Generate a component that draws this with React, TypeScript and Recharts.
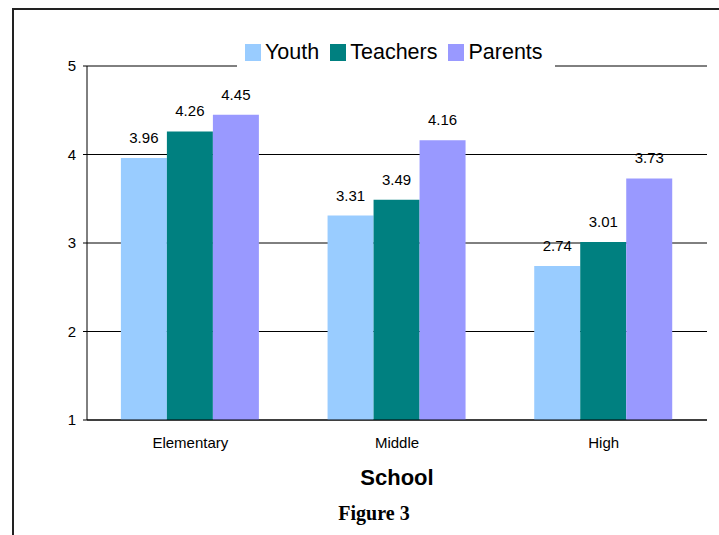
import { BarChart, Bar, XAxis, YAxis, CartesianGrid, Legend, LabelList, Label } from 'recharts';

const schools = ['Elementary', 'Middle', 'High'];
const youth = [3.96, 3.31, 2.74];
const teachers = [4.26, 3.49, 3.01];
const parents = [4.45, 4.16, 3.73];
const yTicks = [1, 2, 3, 4, 5];

const SERIES = [
  { key: 'youth', name: 'Youth', color: '#99ccff' },
  { key: 'teachers', name: 'Teachers', color: '#008080' },
  { key: 'parents', name: 'Parents', color: '#9999ff' },
];

const FONT = '"Liberation Sans", Arial, sans-serif';

const data = schools.map((school, i) => ({
  school,
  youth: youth[i],
  teachers: teachers[i],
  parents: parents[i],
}));

// legend sits on a white box that hides the top gridline behind it;
// items follow the series order (Youth, Teachers, Parents)
function renderLegend() {
  return (
    <div
      style={{
        display: 'flex',
        alignItems: 'center',
        background: '#fff',
        padding: '4px 12px 4px 8px',
        height: 30,
        fontFamily: FONT,
        fontSize: 21.5,
        color: '#000',
      }}
    >
      {SERIES.map((s, i) => (
        <div key={s.key} style={{ display: 'flex', alignItems: 'center', marginLeft: i ? 11 : 0 }}>
          <span style={{ width: 16, height: 17, background: s.color, display: 'inline-block', marginRight: 4 }} />
          <span>{s.name}</span>
        </div>
      ))}
    </div>
  );
}

export default function App() {
  return (
    <div style={{ position: 'absolute', left: 0, top: 0, width: 719, height: 535, background: '#fff' }}>
      {/* page frame */}
      <div style={{ position: 'absolute', left: 12, top: 8, width: 707, height: 2, background: '#222' }} />
      <div style={{ position: 'absolute', left: 12, top: 8, width: 2, height: 527, background: '#222' }} />

      <BarChart
        width={719}
        height={535}
        data={data}
        margin={{ top: 66, right: 12, left: 0, bottom: 0 }}
        barCategoryGap="16.4%"
        barGap={0}
      >
        <CartesianGrid vertical={false} stroke="#000" strokeOpacity={1} />
        <XAxis
          dataKey="school"
          axisLine={{ stroke: '#000' }}
          tickLine={false}
          tickSize={0}
          tickMargin={17}
          interval={0}
          height={115}
          tick={{ fill: '#000', fontSize: 15, fontFamily: FONT }}
        >
          <Label
            value="School"
            position="insideBottom"
            offset={50}
            style={{ fill: '#000', fontSize: 22, fontWeight: 'bold', fontFamily: FONT }}
          />
        </XAxis>
        <YAxis
          width={87}
          domain={[1, 5]}
          ticks={yTicks}
          axisLine={{ stroke: '#000' }}
          tickLine={{ stroke: '#000' }}
          tickSize={4}
          tickMargin={7}
          tick={{ fill: '#000', fontSize: 15, fontFamily: FONT }}
        />
        <Legend
          verticalAlign="middle"
          align="center"
          wrapperStyle={{ top: 33, left: 237, width: 'auto' }}
          content={renderLegend}
        />
        {SERIES.map((s) => (
          <Bar key={s.key} dataKey={s.key} name={s.name} fill={s.color} isAnimationActive={false}>
            <LabelList
              dataKey={s.key}
              position="top"
              offset={15}
              formatter={(v: any) => Number(v).toFixed(2)}
              style={{ fill: '#000', fontSize: 15, fontFamily: FONT }}
            />
          </Bar>
        ))}
      </BarChart>

      <div
        style={{
          position: 'absolute',
          left: 0,
          width: 748,
          top: 502,
          textAlign: 'center',
          fontFamily: '"Liberation Serif", "Times New Roman", serif',
          fontWeight: 'bold',
          fontSize: 20,
          color: '#000',
        }}
      >
        Figure 3
      </div>
    </div>
  );
}
